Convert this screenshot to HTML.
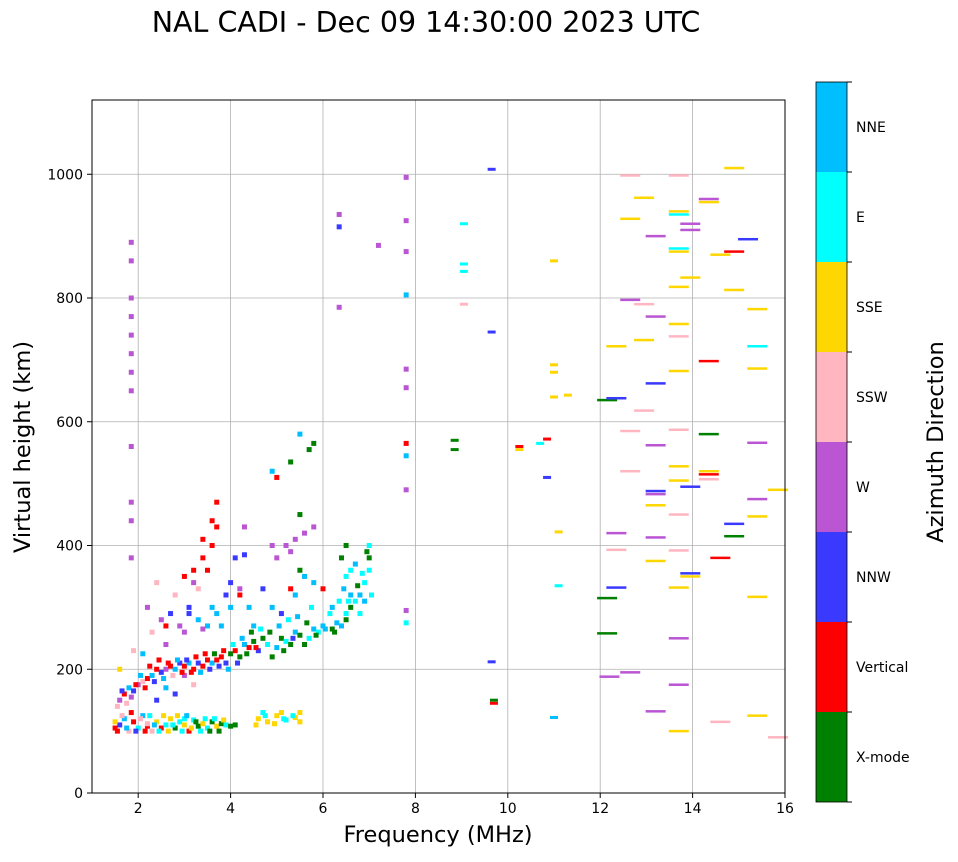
<!DOCTYPE html>
<html><head><meta charset="utf-8"><style>
html,body{margin:0;padding:0;background:#fff;}
svg text{font-family:"DejaVu Sans","Liberation Sans",sans-serif;}
</style></head><body>
<svg id="chart" width="958" height="857" xmlns="http://www.w3.org/2000/svg">
<text x="426" y="32" font-size="28.5" text-anchor="middle">NAL CADI - Dec 09 14:30:00 2023 UTC</text>
<g id="grid"></g>
<g id="marks"></g>
<rect x="92" y="100" width="693" height="693" fill="none" stroke="#000" stroke-width="1"/>
<g id="axes"></g>
<text x="438" y="842" font-size="22.5" text-anchor="middle">Frequency (MHz)</text>
<text x="30" y="447" font-size="22.5" text-anchor="middle" transform="rotate(-90 30 447)">Virtual height (km)</text>
<g id="cbar"></g>
<text x="943" y="442" font-size="22.5" text-anchor="middle" transform="rotate(-90 943 442)">Azimuth Direction</text>
</svg>
<script>
const categories = ["X-mode","Vertical","NNW","W","SSW","SSE","E","NNE"];
const catColors = ["#008000","#ff0000","#3a3aff","#ba55d3","#ffb6c1","#ffd700","#00ffff","#00bfff"];
const xTicks = [2,4,6,8,10,12,14,16];
const yTicks = [0,200,400,600,800,1000];
const freqs = [1.5,1.6,1.7,1.8,1.9,2.0,2.1,2.2,2.3,2.4,2.5,2.6,2.7,2.8,2.9,3.0,3.1,3.2,3.3,3.4,3.5,3.6,3.7,3.8,3.9,4.0,4.1,4.6,4.8,5.0,5.2,5.4,5.5,4.7,5.1,2.2,3.0,1.5,1.6,1.55,
1.6,1.7,1.8,1.9,2.0,2.1,2.2,2.3,2.4,2.5,2.6,2.7,2.8,2.9,3.0,3.1,3.2,3.3,3.4,3.5,3.6,3.7,3.8,3.9,4.0,4.1,4.2,4.3,4.4,4.5,4.6,4.7,4.8,4.9,5.0,5.1,5.2,5.3,5.4,5.5,5.6,5.7,5.8,5.9,6.0,6.2,6.4,6.5,6.5,6.6,6.7,6.8,6.9,7.0,7.0,7.0,6.8,6.6,6.5,6.7,6.9,6.3,
2.5,2.7,2.9,3.1,3.3,3.5,3.7,3.9,4.0,4.2,2.8,3.0,3.2,3.4,3.6,3.7,3.7,3.5,3.3,2.4,2.2,4.3,4.1,4.3,5.2,5.4,5.6,5.8,5.0,5.5,5.3,5.6,5.8,6.0,6.2,5.0,5.3,5.5,5.7,5.8,2.4,2.6,2.8,3.0,3.2,1.9,2.1,
1.85,1.85,1.85,1.85,1.85,1.85,1.85,1.85,1.85,1.85,1.85,1.85,
6.35,6.35,6.35,7.2,7.8,7.8,7.8,7.8,7.8,7.8,7.8,7.8,7.8,7.8,7.8,8.85,8.85,9.05,9.05,9.05,9.05,9.65,9.65,9.65,9.7,9.7,10.25,10.25,10.7,10.85,10.85,11.0,11.0,11.0,11.0,11.0,11.1,11.1,11.3,
12.15,12.15,12.15,12.2,12.35,12.35,12.35,12.35,12.35,12.65,12.65,12.65,12.65,12.65,12.65,12.95,12.95,12.95,12.95,13.2,13.2,13.2,13.2,13.2,13.2,13.2,13.2,13.2,13.2,
13.7,13.7,13.7,13.7,13.7,13.7,13.7,13.7,13.7,13.7,13.7,13.7,13.7,13.7,13.7,13.7,13.7,13.7,13.95,13.95,13.95,13.95,13.95,13.95,14.35,14.35,14.35,14.35,14.35,14.35,14.35,14.6,14.6,14.6,14.9,14.9,14.9,14.9,14.9,15.2,15.4,15.4,15.4,15.4,15.4,15.4,15.4,15.4,15.85,15.85,
1.55,1.65,1.75,1.85,1.95,2.05,2.15,2.25,2.35,2.45,2.55,2.65,2.75,2.85,2.95,3.05,3.15,3.25,3.35,3.45,3.55,3.65,3.75,3.85,4.55,4.75,4.95,5.15,5.35,5.5,
1.65,1.75,1.85,1.95,2.05,2.15,2.25,2.35,2.45,2.55,2.65,2.75,2.85,2.95,3.05,3.15,3.25,3.35,3.45,3.55,3.65,3.75,3.85,3.95,4.05,4.15,4.25,4.35,4.45,4.55,4.65,4.85,5.05,5.15,5.25,5.35,5.45,5.65,5.75,5.85,6.05,6.15,6.25,6.35,6.45,6.55,6.6,6.75,6.85,6.95,7.05,6.4,6.5,
2.6,3.0,3.1,3.4,3.6,3.8,4.0,4.2,4.4,4.5,4.7,4.9,5.1,5.4,3.2,3.4,3.6,4.9,5.3,2.6,2.3,4.9,5.5];
const heights = [105,110,120,100,115,105,125,108,100,115,105,110,120,105,115,110,100,118,108,112,105,115,108,112,110,108,110,120,115,125,118,122,115,130,130,112,120,115,200,140,
150,160,170,165,175,180,185,190,200,195,200,205,200,210,205,210,200,210,205,215,210,215,220,210,225,230,220,240,235,245,230,250,240,220,235,250,245,240,260,255,240,250,265,260,270,265,270,280,290,300,310,320,340,360,380,400,290,320,350,370,310,275,
280,290,270,300,280,270,290,320,300,330,320,350,340,380,400,430,470,360,330,340,300,430,380,385,400,410,420,430,380,360,330,350,340,330,300,510,535,580,555,565,150,170,160,190,175,230,225,
890,860,800,770,740,710,680,650,560,470,440,380,
935,915,785,885,995,925,875,805,685,655,565,545,490,295,275,570,555,920,855,843,790,1008,745,212,150,145,560,555,565,572,510,860,692,680,640,122,422,335,643,
635,315,258,188,638,722,420,332,393,998,928,797,585,520,195,962,790,732,618,900,770,662,562,488,483,465,413,375,132,
998,940,935,880,875,818,758,738,682,587,528,505,450,392,332,250,175,100,920,910,833,495,355,350,960,955,698,580,520,515,507,870,380,115,1010,875,813,435,415,895,782,722,686,566,475,447,317,125,490,90,
100,125,105,130,100,120,100,125,110,100,125,100,110,125,100,125,105,115,100,120,100,120,100,118,110,125,112,120,125,130,
165,145,155,175,190,170,205,180,215,185,210,190,215,195,215,195,220,195,225,200,225,205,230,200,240,210,250,225,260,235,265,260,270,230,280,250,285,275,300,255,265,290,260,310,330,310,360,335,355,390,320,380,400,
270,260,290,265,300,270,340,320,300,270,330,300,290,320,360,410,440,400,390,240,260,520,450];
const dirs = [1,2,7,4,1,6,7,1,4,5,1,6,5,0,6,5,1,6,0,5,6,0,5,0,6,0,0,5,5,5,6,5,5,6,5,4,6,5,5,4,
3,1,7,2,3,4,1,7,1,2,3,1,7,2,1,7,1,2,1,1,7,1,1,2,0,1,0,7,1,0,2,0,6,0,7,0,6,0,7,0,0,6,7,6,7,0,7,0,6,0,6,7,6,6,0,6,6,7,6,7,7,7,
3,2,3,2,7,7,7,2,7,3,4,1,3,1,1,1,1,1,4,4,3,3,2,2,3,3,3,3,3,0,1,7,7,1,7,1,0,7,0,0,2,7,2,3,4,4,7,
3,3,3,3,3,3,3,3,3,3,3,3,
3,2,3,3,3,3,3,7,3,3,1,7,3,3,6,0,0,6,6,6,4,2,2,2,0,1,1,5,6,1,2,5,5,5,5,7,5,6,5,
0,0,0,3,2,5,3,2,4,4,5,3,4,4,3,5,4,5,4,3,3,2,3,2,3,5,3,5,3,
4,5,6,6,5,5,5,4,5,4,5,5,4,4,5,3,3,5,3,3,5,2,2,5,3,5,1,0,5,1,4,5,1,4,5,1,5,2,0,2,5,6,5,3,3,5,5,5,5,4,
1,4,7,1,2,4,1,6,7,6,5,5,6,5,6,7,5,0,6,6,0,6,0,5,5,6,5,6,6,5,
2,4,3,1,7,1,1,2,1,7,1,4,7,1,2,1,1,7,1,2,0,2,1,7,6,2,7,0,0,1,6,0,7,0,6,2,7,0,6,0,7,6,0,6,7,6,6,0,6,0,6,0,0,
1,3,2,3,7,7,2,1,7,7,2,7,2,7,1,1,1,3,3,3,4,7,0];

const NS="http://www.w3.org/2000/svg";
const X0=92,X1=785,Y0=793,Y1=100,FMIN=1,FMAX=16,HMIN=0,HMAX=1120;
function xs(f){return X0+(f-FMIN)/(FMAX-FMIN)*(X1-X0);}
function ys(h){return Y0-(h-HMIN)/(HMAX-HMIN)*(Y0-Y1);}
function mk(tag,attrs,parent){const e=document.createElementNS(NS,tag);for(const k in attrs)e.setAttribute(k,attrs[k]);parent.appendChild(e);return e;}
const grid=document.getElementById('grid'),axes=document.getElementById('axes'),marks=document.getElementById('marks'),cbar=document.getElementById('cbar');
xTicks.forEach(t=>{const x=xs(t);
 const g=mk('line',{x1:x,x2:x,y1:Y1,y2:Y0,stroke:'#b0b0b0','stroke-width':0.8},grid);
 
 
 mk('line',{x1:x,x2:x,y1:Y0,y2:Y0+5,stroke:'#000'},axes);
 const tx=mk('text',{x:x,y:Y0+20,'font-size':14,'text-anchor':'middle'},axes);tx.textContent=t;
 
 
});
yTicks.forEach(t=>{const y=ys(t);
 const g=mk('line',{x1:X0,x2:X1,y1:y,y2:y,stroke:'#b0b0b0','stroke-width':0.8},grid);
 
 
 mk('line',{x1:X0-5,x2:X0,y1:y,y2:y,stroke:'#000'},axes);
 const tx=mk('text',{x:X0-9,y:y+5,'font-size':14,'text-anchor':'end'},axes);tx.textContent=t;
 
 
});
for(let i=0;i<freqs.length;i++){
 const f=freqs[i],h=heights[i];
 let w,hh;
 if(f<8){w=5;hh=5;}else if(f<12){w=8;hh=3;}else{w=20;hh=2.5;}
 const r=mk('rect',{x:xs(f)-w/2,y:ys(h)-hh/2,width:w,height:hh,fill:catColors[dirs[i]]},marks);
 
 
}
const CX=816,CW=31,CT=82,CB=802,seg=(CB-CT)/categories.length;
categories.forEach((c,i)=>{
 const top=CB-(i+1)*seg;
 const r=mk('rect',{x:CX,y:top,width:CW,height:seg,fill:catColors[i]},cbar);
 
 
 const tx=mk('text',{x:CX+CW+9,y:top+seg/2+5,'font-size':14},cbar);tx.textContent=c;
 
 
});
for(let i=0;i<=categories.length;i++){const y=CT+i*seg;mk('line',{x1:CX+CW,x2:CX+CW+5,y1:y,y2:y,stroke:'#000'},cbar);}
mk('rect',{x:CX,y:CT,width:CW,height:CB-CT,fill:'none',stroke:'#000','stroke-width':0.8},cbar);
</script>
</body></html>
